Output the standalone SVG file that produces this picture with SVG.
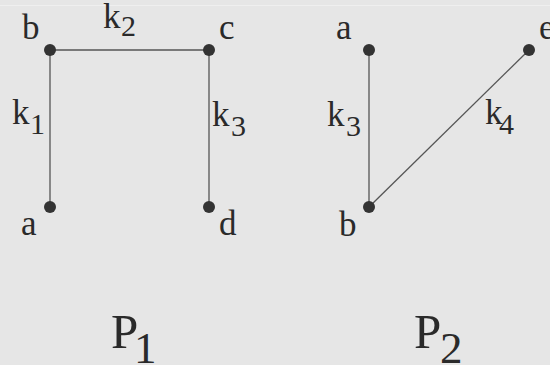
<svg xmlns="http://www.w3.org/2000/svg" width="550" height="365" viewBox="0 0 550 365">
<style>
.l{font-size:35px}
.s{font-size:30px}
.t{font-size:49px}
.ts{font-size:45px}
.dot{fill:#333}
.e{stroke:#555;stroke-width:1.3;fill:none}
</style>
<rect width="550" height="365" fill="#e6e6e6"/>
<line x1="0" y1="5.5" x2="550" y2="5.5" stroke="#efefef" stroke-width="1"/>
<g id="connectors">
<line class="e" x1="50" y1="50" x2="209" y2="50"/>
<line class="e" x1="50" y1="50" x2="50" y2="207"/>
<line class="e" x1="209" y1="50" x2="209" y2="207"/>
<line class="e" x1="369" y1="50" x2="369" y2="207"/>
<line class="e" x1="369" y1="207" x2="529" y2="50" stroke="#333" stroke-width="1"/>
</g>
<g font-family="'Liberation Serif', 'Times New Roman', serif" fill="#2a2a2a">
<g id="edge-labels">
<text class="l" x="103" y="28">k</text><text class="s" x="121" y="36">2</text>
<text class="l" x="12" y="124">k</text><text class="s" x="30" y="134">1</text>
<text class="l" x="212" y="126">k</text><text class="s" x="231" y="136">3</text>
<text class="l" x="327" y="126">k</text><text class="s" x="346" y="136">3</text>
<text class="l" x="485" y="124">k</text><text class="s" x="499" y="134">4</text>
</g>
<g id="P1-b"><circle class="dot" cx="50" cy="50" r="6"/><text class="l" x="22" y="39">b</text></g>
<g id="P1-c"><circle class="dot" cx="209" cy="50" r="6"/><text class="l" x="219" y="39">c</text></g>
<g id="P1-a"><circle class="dot" cx="50" cy="207" r="6"/><text class="l" x="21" y="235">a</text></g>
<g id="P1-d"><circle class="dot" cx="209" cy="207" r="6"/><text class="l" x="219" y="235">d</text></g>
<g id="P2-a"><circle class="dot" cx="369" cy="50" r="6"/><text class="l" x="336" y="39">a</text></g>
<g id="P2-e"><circle class="dot" cx="529" cy="50" r="6"/><text class="l" x="539" y="39">e</text></g>
<g id="P2-b"><circle class="dot" cx="369" cy="207" r="6"/><text class="l" x="339" y="236">b</text></g>
<g id="title-P1"><text class="t" x="111" y="348">P</text><text class="ts" x="134" y="363">1</text></g>
<g id="title-P2"><text class="t" x="414" y="348">P</text><text class="ts" x="440" y="363">2</text></g>
</g>
</svg>
